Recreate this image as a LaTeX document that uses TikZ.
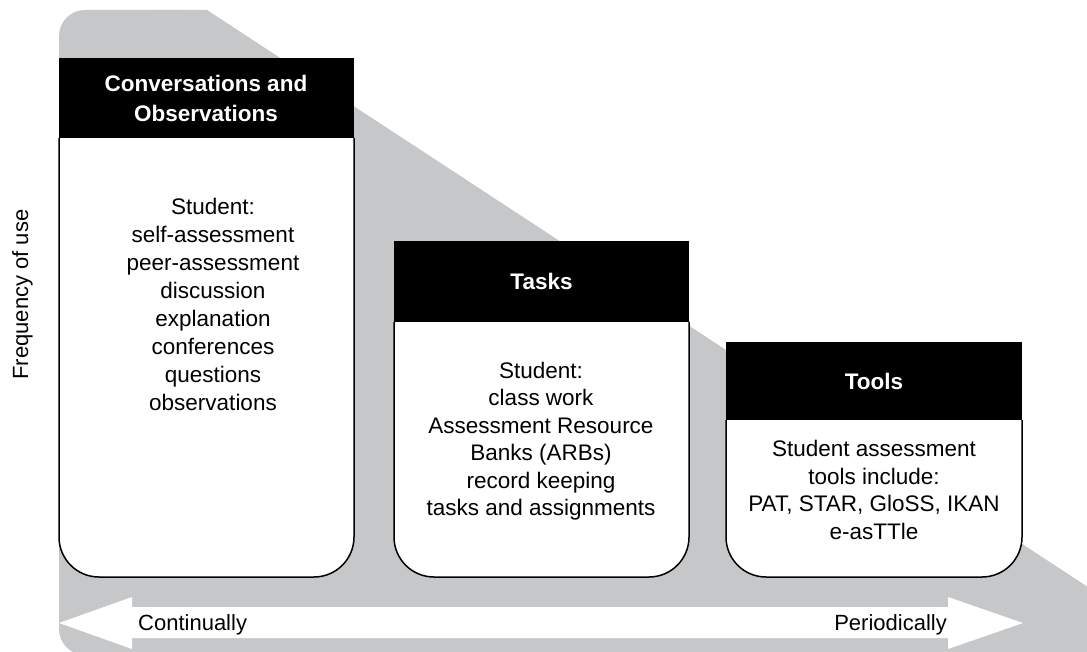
\documentclass[tikz,border=0pt]{standalone}
\usepackage{fontspec}
\setmainfont{Liberation Sans}
\definecolor{bggray}{RGB}{198,199,201}
\begin{document}
\begin{tikzpicture}[x=1pt,y=-1pt,
  hdr/.style={fill=black},
  bodybox/.style={fill=white,draw=black,line width=1.5pt,rounded corners=40pt},
  hdrtext/.style={text=white,font=\fontsize{22.5}{30}\selectfont\bfseries,align=center,inner sep=0pt},
  bodytext/.style={font=\fontsize{22.5}{28}\selectfont,align=center,inner sep=0pt,anchor=north},
  lbl/.style={font=\fontsize{22}{26}\selectfont,inner sep=0pt}]
\useasboundingbox (0,0) rectangle (1087,652);
\clip (0,0) rectangle (1087,652);
% grey background
\fill[bggray,rounded corners=26pt] (59,10) rectangle (207,655);
\fill[bggray] (150,10) -- (207,10) -- (1150,627.7) -- (1150,700) -- (150,700) -- cycle;
% box 1
\filldraw[bodybox] (59,138) -- (59,577) -- (354,577) -- (354,138);
\fill[hdr] (59,58) rectangle (354,138);
\node[hdrtext] (h1) at (206,98) {Conversations and\\Observations};
\node[bodytext,font=\fontsize{22.5}{28}\selectfont] (b1) at (213,198) {Student:\\self-assessment\\peer-assessment\\discussion\\explanation\\conferences\\questions\\observations};
% box 2
\filldraw[bodybox] (394,322) -- (394,577) -- (689,577) -- (689,322);
\fill[hdr] (394,241) rectangle (689,322);
\node[hdrtext] (h2) at (541.5,281.5) {Tasks};
\node[bodytext,font=\fontsize{22.5}{27.4}\selectfont] (b2) at (541,362) {Student:\\class work\\Assessment Resource\\Banks (ARBs)\\record keeping\\tasks and assignments};
% box 3
\filldraw[bodybox] (726,420) -- (726,577) -- (1022,577) -- (1022,420);
\fill[hdr] (726,342) rectangle (1022,420);
\node[hdrtext] (h3) at (874,381) {Tools};
\node[bodytext,font=\fontsize{22.5}{27.7}\selectfont] (b3) at (874,440) {Student assessment\\tools include:\\PAT, STAR, GloSS, IKAN\\e-asTTle};
% double arrow
\fill[white] (59,623) -- (132,597) -- (132,607) -- (948,607) -- (948,597) -- (1023,623) -- (948,649) -- (948,638) -- (132,638) -- (132,649) -- cycle;
\node[lbl,anchor=base west] (cont) at (138,630) {Continually};
\node[lbl,anchor=base east] (peri) at (947,630) {Periodically};
% axis label
\node[lbl,rotate=90,anchor=base] (freq) at (28,294.5) {Frequency of use};
\end{tikzpicture}
\end{document}
